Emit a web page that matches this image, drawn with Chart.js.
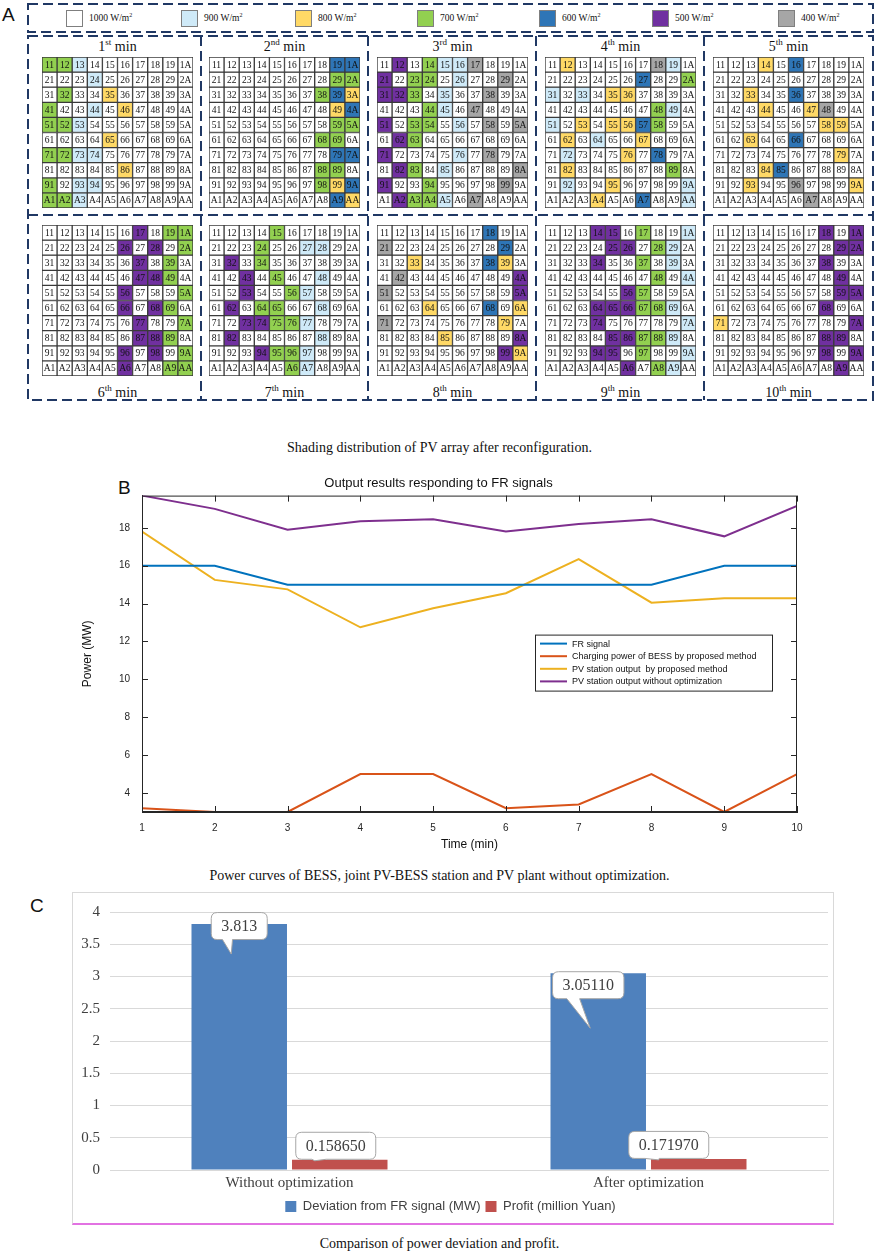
<!DOCTYPE html>
<html><head><meta charset="utf-8">
<script src="https://cdn.jsdelivr.net/npm/chart.js@4/dist/chart.umd.min.js"></script>
<style>
body{margin:0;width:879px;height:1255px;position:relative;background:#fff;overflow:hidden;font-family:"Liberation Serif",serif;color:#111;}
.abs{position:absolute;}
.ttl{position:absolute;font-family:"Liberation Serif",serif;font-size:14px;text-align:center;width:151px;line-height:16px;}
.ttl sup{font-size:9px;line-height:0;}
.cap{position:absolute;left:0;width:879px;text-align:center;font-family:"Liberation Serif",serif;font-size:14px;}
.plab{position:absolute;font-family:"Liberation Sans",Arial,sans-serif;font-size:19px;}
.lg{position:absolute;top:10px;width:17px;height:17px;box-sizing:border-box;border:1px solid #7f7f7f;}
.lgt{position:absolute;top:12px;font-size:9.5px;font-family:"Liberation Serif",serif;}
.lgt sup{font-size:6px;}
</style></head><body>
<script>
// ---------- Panel A data ----------
const levelNames = ['1000 W/m²','900 W/m²','800 W/m²','700 W/m²','600 W/m²','500 W/m²','400 W/m²'];
const levelCodes = ['W','L','Y','G','B','P','S'];
const levelColors = ['#ffffff','#cfeaf8','#ffd966','#92d050','#2e75b6','#7030a0','#a6a6a6'];
const colIds = ['1','2','3','4','5','6','7','8','9','A'];
const rowIds = ['1','2','3','4','5','6','7','8','9','A'];
const minuteOrd = ['st','nd','rd','th','th','th','th','th','th','th'];
const shadeMin1 = ['GGLWWWWWWW','WWWLWWWWWW','WGWWYWWWWW','GWWLWYWWWW','GGLWWWWWWW','WWWWYWWWWW','GGLLWWWWWW','WWWWWYWWWW','GWLLWWWWWW','GGLWWWWWWW'];
const shadeMin2 = ['WWWWWWWWBB','WWWWWWWWGG','WWWWWWWGBY','WWWWWWWWYB','WWWWWWWWGG','WWWWWWWGGW','WWWWWWWWBB','WWWWWWWGGW','WWWWWWWGYB','WWWWWWWWBY'];
const shadeMin3 = ['WPWGLLSWWW','PWGGWLWWSW','PPGWLWWSWW','WWWGLWSWWW','PWGGWLWSWS','WPGWWWWWWW','PWWWWLWSWW','WPGWLWWWWS','PWWGWWWWSW','WPGGLWSWWW'];
const shadeMin4 = ['WYWWWWWSLW','WWWWWWBWWG','LWLWYYWWWW','WWWWWWWGLW','LWYWYYBGWW','WYWLWWYWWW','WLWWWYWBWW','WYWWWWWWGW','WLWWYWWWWL','WWWYWWBWWL'];
const shadeMin5 = ['WWWYWBWWWW','WWWWWWWWWW','WWYWWBWWWW','WWWYWWYSWW','WWWWWWWYYW','WWYWWBWWWW','WWWWWWWWYW','WWWYBWWWWW','WWYWWSWWWY','WWWWWWSWWW'];
const shadeMin6 = ['WWWWWWPWGG','WWWWWPWPWG','WWWWWWPWGW','WWWWWWPPGW','WWWWWPWWWG','WWWWWPWPGW','WWWWWWPWWG','WWWWWWPPGW','WWWWWPWPWG','WWWWWPWWGG'];
const shadeMin7 = ['WWWWGWWWWW','WWWGWWLLWW','WPWGWWWWWW','WWPWGWWLWW','WWPWWGLWWW','WPWGGWWLWW','WWPPGGLWWW','WPWWWWWLWW','WWWPGGLWWW','WWWWWGLWWW'];
const shadeMin8 = ['WWWWWWWBWW','SWWWWWWWBW','WWYWWWWBYW','WSWWWWWWWP','SWWWWWWWWP','WWWYWWWBWY','SWWWWWWWYW','WWWWYWWWWP','WWWWWWWWPY','WWWWWWWWWW'];
const shadeMin9 = ['WWWPPWGWWL','WWWWPPWGLW','WWWPWWGWLW','WWWWWWWGWL','WWWWWPGWWW','WWWPPPGGLW','WWWPWWWWWL','WWWWPPGGLW','WWWPPWGWWL','WWWWWPWGLW'];
const shadeMin10 = ['WWWWWWWPWP','WWWWWWWWPP','WWWWWWWPWW','WWWWWWWWPW','WWWWWWWWPP','WWWWWWWPWW','YWWWWWWWWP','WWWWWWWPPW','WWWWWWWPWP','WWWWWWWWPW'];
const shadeAll = [shadeMin1,shadeMin2,shadeMin3,shadeMin4,shadeMin5,shadeMin6,shadeMin7,shadeMin8,shadeMin9,shadeMin10];

// ---------- Panel B data ----------
const timeMin = [1,2,3,4,5,6,7,8,9,10];
const frSignal = [16,16,15,15,15,15,15,15,16,16];
const bessCharge = [3.2,3.0,3.0,5.0,5.0,3.2,3.4,5.0,3.0,5.0];
const pvProposed = [17.8,15.25,14.75,12.75,13.75,14.55,16.35,14.05,14.28,14.28];
const pvNoOpt = [19.7,19.0,17.9,18.35,18.45,17.8,18.2,18.45,17.55,19.15];
const powerTicks = [4,6,8,10,12,14,16,18];
const seriesNamesB = ['FR signal','Charging power of BESS by proposed method','PV station output  by proposed method','PV station output without optimization'];

// ---------- Panel C data ----------
const scenarios = ['Without optimization','After optimization'];
const deviation = [3.813, 3.0511];
const profit = [0.15865, 0.17197];
const deviationText = ['3.813','3.05110'];
const profitText = ['0.158650','0.171970'];
const seriesNamesC = ['Deviation from FR signal (MW)','Profit (million Yuan)'];
const devTicks = [0,0.5,1,1.5,2,2.5,3,3.5,4];
</script>

<div class="plab" style="left:2px;top:4px;">A</div>
<svg class="abs" style="left:0;top:0" width="879" height="410">
 <g stroke="#203864" stroke-width="2" stroke-dasharray="10 5" fill="none">
  <rect x="28" y="4" width="845" height="28"/>
  <rect x="28" y="36" width="845" height="364"/>
  <line x1="28" y1="215" x2="873" y2="215"/>
  <line x1="201" y1="36" x2="201" y2="400"/>
  <line x1="368" y1="36" x2="368" y2="400"/>
  <line x1="536" y1="36" x2="536" y2="400"/>
  <line x1="704" y1="36" x2="704" y2="400"/>
 </g>
</svg>
<div id="legA"></div>
<div id="gridsA"></div>

<div class="cap" style="top:440px;">Shading distribution of PV array after reconfiguration.</div>

<div class="plab" style="left:118px;top:477px;">B</div>
<canvas id="chartB" class="abs" style="left:80px;top:474px;" width="730" height="378"></canvas>
<div class="cap" style="top:868px;">Power curves of BESS, joint PV-BESS station and PV plant without optimization.</div>

<div class="plab" style="left:30px;top:895px;">C</div>
<div class="abs" style="left:72px;top:892px;width:762px;height:333px;border:1px solid #d9d9d9;border-bottom:2px solid #e272e2;box-sizing:border-box;"></div>
<canvas id="chartC" class="abs" style="left:73px;top:893px;" width="760" height="330"></canvas>
<div class="cap" style="top:1236px;">Comparison of power deviation and profit.</div>

<script>
Chart.defaults.animation = false;
Chart.defaults.responsive = false;
Chart.defaults.devicePixelRatio = 1;

// Legend A
const legX = [66,181,295,417,539,652,778];
const legA = document.getElementById('legA');
levelNames.forEach((n,i)=>{
  const sq = document.createElement('div'); sq.className='lg';
  sq.style.left = legX[i]+'px'; sq.style.background = levelColors[i];
  legA.appendChild(sq);
  const t = document.createElement('div'); t.className='lgt';
  t.style.left = (legX[i]+23)+'px';
  t.innerHTML = n.replace('²','<sup>2</sup>');
  legA.appendChild(t);
});

// Grids
const gridLefts = [42,209,377,545,713];
const gridTops = [57,225];
const titleTops = [39,385];
const GS = 151;
const colorOf = {};
levelCodes.forEach((c,i)=>colorOf[c]=levelColors[i]);

const cellLabelPlugin = {
  id:'cellLabels',
  afterDatasetsDraw(chart){
    const ctx = chart.ctx;
    ctx.save();
    ctx.font = '9.5px "Liberation Serif", serif';
    ctx.textAlign='center'; ctx.textBaseline='middle';
    ctx.fillStyle = '#111';
    chart.data.datasets.forEach((ds,r)=>{
      chart.getDatasetMeta(r).data.forEach((el,c)=>{
        ctx.fillText(rowIds[r]+colIds[c], el.x, (el.y+el.base)/2+0.5);
      });
    });
    ctx.restore();
  }
};

const gridsA = document.getElementById('gridsA');
shadeAll.forEach((rows,k)=>{
  const gx = gridLefts[k%5], gy = gridTops[Math.floor(k/5)];
  const cv = document.createElement('canvas');
  cv.width = GS+2; cv.height = GS+2;
  cv.className='abs'; cv.style.left=(gx-1)+'px'; cv.style.top=(gy-1)+'px';
  gridsA.appendChild(cv);
  const t = document.createElement('div'); t.className='ttl';
  t.style.left = gx+'px'; t.style.top = titleTops[Math.floor(k/5)]+'px';
  t.innerHTML = (k+1)+'<sup>'+minuteOrd[k]+'</sup> min';
  gridsA.appendChild(t);
  const datasets = rows.map(row=>({
    data: colIds.map(()=>1),
    backgroundColor: row.split('').map(c=>colorOf[c]),
    borderColor:'#3a3a3a', borderWidth:1, borderSkipped:false,
    barPercentage:1, categoryPercentage:1
  }));
  new Chart(cv,{type:'bar',data:{labels:colIds,datasets},
    options:{events:[],layout:{padding:1},
      plugins:{legend:{display:false},tooltip:{enabled:false}},
      scales:{x:{display:false,stacked:true},y:{display:false,stacked:true,min:0,max:10,reverse:true}}},
    plugins:[cellLabelPlugin]});
});

// ---------- Panel B ----------
const matlabColors = ['#0072BD','#D95319','#EDB120','#7E2F8E'];
const seriesB = [frSignal,bessCharge,pvProposed,pvNoOpt];
const boxTicksPlugin = {
  id:'boxTicks',
  afterDraw(chart){
    const {ctx,chartArea:a,scales} = chart;
    ctx.save();
    ctx.strokeStyle='#262626'; ctx.lineWidth=1;
    ctx.strokeRect(a.left+0.5,a.top+0.5,a.right-a.left-1,a.bottom-a.top-1);
    ctx.beginPath();
    scales.y.ticks.forEach(t=>{
      const y = Math.round(scales.y.getPixelForValue(t.value))+0.5;
      ctx.moveTo(a.left,y); ctx.lineTo(a.left+6,y);
      ctx.moveTo(a.right,y); ctx.lineTo(a.right-6,y);
    });
    scales.x.ticks.forEach(t=>{
      const x = Math.round(scales.x.getPixelForValue(t.value))+0.5;
      ctx.moveTo(x,a.bottom); ctx.lineTo(x,a.bottom-6);
      ctx.moveTo(x,a.top); ctx.lineTo(x,a.top+6);
    });
    ctx.stroke();
    // legend box
    const lx = a.left+393, ly = a.top+139, lw = 237, lh = 56;
    ctx.fillStyle='#fff'; ctx.fillRect(lx,ly,lw,lh);
    ctx.strokeStyle='#262626'; ctx.strokeRect(lx+0.5,ly+0.5,lw,lh);
    ctx.font='9px "Liberation Sans", Arial, sans-serif';
    ctx.textBaseline='middle'; ctx.textAlign='left';
    chart.data.datasets.forEach((ds,i)=>{
      const yy = ly+9+i*12.6;
      ctx.strokeStyle=ds.borderColor; ctx.lineWidth=2;
      ctx.beginPath(); ctx.moveTo(lx+5,yy); ctx.lineTo(lx+32,yy); ctx.stroke();
      ctx.fillStyle='#111'; ctx.fillText(ds.label,lx+37,yy+0.5);
    });
    ctx.restore();
  }
};
new Chart(document.getElementById('chartB'),{
  type:'line',
  data:{datasets:seriesB.map((arr,i)=>({
    label:seriesNamesB[i],
    data:timeMin.map((t,j)=>({x:t,y:arr[j]})),
    borderColor:matlabColors[i],backgroundColor:matlabColors[i],
    borderWidth:2,pointRadius:0,tension:0
  }))},
  options:{
    events:[],
    layout:{padding:{left:0,right:13,top:0,bottom:0}},
    plugins:{legend:{display:false},tooltip:{enabled:false},
      title:{display:true,text:'Output results responding to FR signals',color:'#111',
        font:{family:'"Liberation Sans", Arial, sans-serif',size:13,weight:'normal'},padding:{top:2,bottom:4}}},
    scales:{
      x:{type:'linear',min:1,max:10,
        ticks:{stepSize:1,color:'#262626',font:{family:'"Liberation Sans", Arial, sans-serif',size:10},padding:2,maxRotation:0},
        grid:{display:false},border:{display:true,color:'#262626'},
        title:{display:true,text:'Time (min)',color:'#111',font:{family:'"Liberation Sans", Arial, sans-serif',size:12},padding:{top:0,bottom:0}},
        afterFit:s=>{s.height=40;}},
      y:{type:'linear',min:3,max:19.7,
        afterBuildTicks:s=>{s.ticks=powerTicks.map(v=>({value:v}));},
        ticks:{color:'#262626',font:{family:'"Liberation Sans", Arial, sans-serif',size:10},padding:4},
        grid:{display:false},border:{display:true,color:'#262626'},
        title:{display:true,text:'Power (MW)',color:'#111',font:{family:'"Liberation Sans", Arial, sans-serif',size:12},padding:{top:0,bottom:6}},
        afterFit:s=>{s.width=62;}}
    }
  },
  plugins:[boxTicksPlugin]
});

// ---------- Panel C ----------
// callout placement (pixel offsets from each bar top): box centre dx,dy and pointer tip tx,ty
const calloutPlace = [
  [{dx:0,dy:2,tx:-8,ty:30},{dx:-10,dy:12,tx:-8,ty:55}],
  [{dx:-4,dy:-14,tx:-25,ty:1},{dx:-30,dy:-14,tx:-40,ty:1}]
];
const calloutPlugin = {
  id:'callouts',
  afterDatasetsDraw(chart){
    const ctx = chart.ctx;
    ctx.save();
    ctx.font='16px "Liberation Serif", serif';
    ctx.textAlign='center'; ctx.textBaseline='middle';
    const texts=[deviationText,profitText];
    chart.data.datasets.forEach((ds,d)=>{
      chart.getDatasetMeta(d).data.forEach((el,i)=>{
        const txt = texts[d][i], pl = calloutPlace[d][i];
        const w = ctx.measureText(txt).width+20, h=27;
        const cx = el.x+pl.dx, cy = el.y+pl.dy;
        const bx = cx-w/2, by = cy-h/2;
        const tipx = el.x+pl.tx, tipy = el.y+pl.ty;
        const r=6;
        const p1 = bx+w*0.2, p2 = bx+w*0.38;
        ctx.beginPath();
        ctx.moveTo(bx+r,by);
        ctx.lineTo(bx+w-r,by); ctx.quadraticCurveTo(bx+w,by,bx+w,by+r);
        ctx.lineTo(bx+w,by+h-r); ctx.quadraticCurveTo(bx+w,by+h,bx+w-r,by+h);
        ctx.lineTo(p2,by+h); ctx.lineTo(tipx,tipy); ctx.lineTo(p1,by+h);
        ctx.lineTo(bx+r,by+h); ctx.quadraticCurveTo(bx,by+h,bx,by+h-r);
        ctx.lineTo(bx,by+r); ctx.quadraticCurveTo(bx,by,bx+r,by);
        ctx.closePath();
        ctx.fillStyle='#fff'; ctx.fill();
        ctx.strokeStyle='#a6a6a6'; ctx.lineWidth=1; ctx.stroke();
        ctx.fillStyle='#404040'; ctx.fillText(txt,cx,cy+1);
      });
    });
    ctx.restore();
  }
};
new Chart(document.getElementById('chartC'),{
  type:'bar',
  data:{labels:scenarios,datasets:[
    {label:seriesNamesC[0],data:deviation,backgroundColor:'#4f81bd',categoryPercentage:0.56,barPercentage:0.95},
    {label:seriesNamesC[1],data:profit,backgroundColor:'#c0504d',categoryPercentage:0.56,barPercentage:0.95}
  ]},
  options:{
    events:[],
    layout:{padding:{left:0,right:5,top:15,bottom:0}},
    plugins:{tooltip:{enabled:false},
      legend:{position:'bottom',labels:{boxWidth:11,boxHeight:11,color:'#404040',padding:5,
        font:{family:'"Liberation Sans", Arial, sans-serif',size:13}}}},
    scales:{
      x:{grid:{display:false,drawTicks:false},border:{display:true,color:'#d9d9d9'},
        ticks:{color:'#404040',font:{family:'"Liberation Serif", serif',size:15},padding:4},
        afterFit:s=>{s.height=25;}},
      y:{min:0,max:4,afterBuildTicks:s=>{s.ticks=devTicks.map(v=>({value:v}));},
        grid:{color:'#d9d9d9',drawTicks:false},border:{display:false},
        ticks:{color:'#404040',font:{family:'"Liberation Serif", serif',size:15},padding:10,callback:v=>String(v)},
        afterFit:s=>{s.width=37;}}
    }
  },
  plugins:[calloutPlugin]
});
</script>
</body></html>
